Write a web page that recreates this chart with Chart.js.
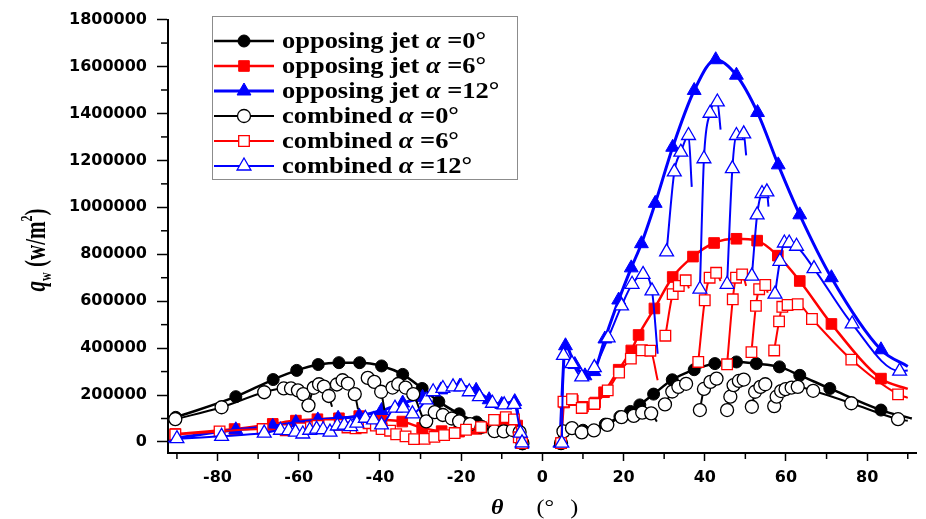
<!DOCTYPE html>
<html>
<head>
<meta charset="utf-8">
<script src="https://cdn.jsdelivr.net/npm/chart.js@4.4.1/dist/chart.umd.min.js"></script>
<style>
  html, body { margin: 0; padding: 0; background: #fff; }
  #wrap { width: 926px; height: 519px; position: relative; }
</style>
</head>
<body>
<div id="wrap"><canvas id="chart"></canvas></div>
<script>
// axis ranges and labelled ticks
const thetaRange = [-92.2, 92.2];
const qRange = [-47000, 1800000];
const xTickLabels = [-80, -60, -40, -20, 0, 20, 40, 60, 80];
const yTickLabels = [0, 200000, 400000, 600000, 800000, 1000000, 1200000, 1400000, 1600000, 1800000];
const xMinorStep = 10;
const yMinorStep = 100000;

const seriesNames = ['opposing jet', 'opposing jet', 'opposing jet', 'combined', 'combined', 'combined'];
const seriesAlpha = ['0', '6', '12', '0', '6', '12'];

// each series: list of segments of [theta, q]; the tails are unmarked end points of a segment
const opposing0 = [
  [[-90.3, 105000], [-75.5, 193000], [-66.3, 266000], [-60.5, 305000], [-55.2, 330000], [-50.1, 338000],
   [-45, 338000], [-39.6, 324000], [-34.4, 288000], [-29.6, 228000], [-25.5, 172000], [-20.5, 120000],
   [-16.2, 85000], [-11.5, 64000], [-7.5, 58000], [-4.9, -8000]],
  [[4.6, -6000], [5.2, 42000], [10, 50000], [15.5, 76000], [19.1, 108000], [21.7, 130000], [24, 158000],
   [27.4, 204000], [32, 265000], [37.4, 308000], [42.5, 334000], [47.8, 341000], [52.7, 334000],
   [58.4, 320000], [63.4, 284000], [70.8, 228000], [83.4, 136000]]
];
const opposing0Tails = [null, [91, 100000]];

const opposing6 = [
  [[-90.4, 34000], [-75.8, 55000], [-66.4, 77000], [-60.7, 91000], [-55.4, 97000], [-50.1, 101000],
   [-45.1, 110000], [-39.6, 95000], [-34.5, 87000], [-29.6, 60000], [-24.8, 46000], [-20.5, 44000],
   [-16.2, 56000], [-12, 72000], [-8, 82000], [-6.2, 70000], [-5, -5000]],
  [[4.6, -5000], [5.4, 168000], [7.5, 178000], [10, 150000], [13, 168000], [15.2, 212000], [18.8, 308000],
   [21.9, 390000], [23.7, 456000], [27.6, 569000], [32.1, 703000], [37.1, 790000], [42.3, 848000],
   [47.8, 866000], [52.9, 858000], [58, 794000], [63.4, 686000], [71.2, 503000], [83.4, 270000]]
];
const opposing6Tails = [null, [90, 226000]];

const opposing12 = [
  [[-90.4, 17000], [-75.5, 52000], [-66.4, 67000], [-60.7, 83000], [-55.3, 94000], [-50.3, 101000],
   [-45.1, 111000], [-39.6, 134000], [-34.4, 166000], [-29.5, 190000], [-25, 222000], [-20.3, 238000],
   [-16.3, 220000], [-13.1, 180000], [-10, 160000], [-6.8, 172000], [-5, -10000]],
  [[4.3, -5000], [5.7, 410000], [8, 330000], [10.5, 282000], [12.7, 300000], [15.4, 439000], [18.8, 605000],
   [21.9, 742000], [24.4, 845000], [27.8, 1017000], [32.1, 1256000], [37.4, 1498000], [42.7, 1629000],
   [47.8, 1563000], [53, 1404000], [58.1, 1181000], [63.4, 968000], [71.2, 700000], [83.4, 393000]]
];
const opposing12Tails = [null, [90, 322000]];

const combined0 = [
  [[-90.4, 97000], [-79, 148000], [-68.5, 212000], [-63.7, 228000], [-61.9, 228000], [-60.2, 220000], [-58.9, 204000]],
  [[-57.6, 156000], [-56.3, 231000], [-55, 246000], [-53.8, 236000], [-52.6, 196000]],
  [[-50.6, 245000], [-49.2, 263000], [-47.9, 249000], [-46.2, 204000]],
  [[-43, 273000], [-41.4, 256000], [-39.7, 214000]],
  [[-36.9, 232000], [-35.5, 247000], [-33.7, 232000], [-31.8, 204000], [-28.6, 88000], [-26.5, 127000],
   [-24.5, 115000], [-22.3, 100000], [-20.5, 88000], [-17.8, 76000], [-15, 64000], [-11.8, 46000],
   [-9.5, 45000], [-7.3, 51000], [-5.6, 42000], [-4.9, -5000]],
  [[4.6, -5000], [5.2, 45000], [7.3, 59000], [9.7, 41000], [12.7, 49000], [16, 73000], [19.5, 106000],
   [22.5, 111000], [24.6, 125000], [26.8, 122000]],
  [[30.2, 160000], [32, 215000], [33.5, 235000], [35.4, 248000]],
  [[38.8, 136000], [39.8, 226000], [41.4, 256000], [42.9, 270000]],
  [[45.5, 136000], [46.3, 193000], [47.1, 242000], [48.4, 260000], [49.6, 266000]],
  [[51.6, 150000], [52.4, 214000], [53.7, 235000], [54.9, 246000]],
  [[57.1, 153000], [57.7, 193000], [58.8, 217000], [59.9, 225000], [61.4, 232000], [62.9, 235000],
   [66.7, 218000], [76.1, 165000], [87.6, 97000]]
];
const combined0Tails = [null, [-51.8, 150000], [-45.4, 139000], [-38.9, 136000], null,
  [28.2, 87000], [36.4, 232000], [43.9, 249000], [50.3, 240000], [55.5, 232000], [90, 90000]];

const combined6 = [
  [[-90.4, 32000], [-79.5, 45000], [-68.9, 55000], [-63.2, 50000], [-59.5, 58000], [-57, 63000], [-55.4, 69000],
   [-52.5, 72000], [-49.7, 73000], [-48, 62000], [-46, 58000], [-44.5, 62000], [-42.8, 80000], [-41, 70000],
   [-39.6, 55000], [-37.5, 48000], [-36, 33000], [-33.7, 24000], [-31.6, 12000], [-29, 13000], [-26.6, 22000],
   [-24.2, 29000], [-21.6, 38000], [-18.8, 52000], [-15.1, 63000], [-11.9, 94000], [-9, 106000], [-7, 96000],
   [-5.8, 20000], [-5, -5000]],
  [[4.6, -5000], [5.2, 172000], [7.3, 182000], [9.7, 145000], [12.8, 162000], [16.1, 220000], [18.9, 296000],
   [21.8, 355000], [24.5, 391000], [26.6, 389000]],
  [[30.3, 453000], [32.1, 630000], [33.6, 665000], [35.3, 689000]],
  [[38.4, 341000], [40, 604000], [41.2, 700000], [42.8, 721000]],
  [[45.5, 331000], [46.9, 608000], [47.7, 700000], [49.2, 714000]],
  [[51.5, 383000], [52.6, 580000], [53.4, 651000], [54.9, 669000]],
  [[57.1, 390000], [58.3, 514000], [59.1, 576000], [60.4, 584000], [62.9, 587000], [66.4, 524000],
   [76.1, 351000], [87.6, 203000]]
];
const combined6Tails = [null, [28.4, 263000], [36.1, 655000], [43.9, 686000], [50.2, 665000], [55.5, 636000], [90, 188000]];

const combined12 = [
  [[-90, 14000], [-79, 24000], [-68.5, 38000], [-64.5, 50000], [-62.5, 48000], [-60.8, 42000], [-59, 34000],
   [-57.3, 50000], [-55.6, 55000], [-54, 52000], [-52.3, 42000], [-50.5, 68000], [-48.8, 72000], [-47.2, 65000],
   [-45.7, 80000], [-43.6, 101000], [-41.6, 94000], [-39.6, 73000], [-36.3, 144000], [-34.3, 144000],
   [-32, 120000], [-28.6, 179000], [-26.9, 214000], [-24.5, 228000], [-22, 235000], [-20, 235000],
   [-18, 214000], [-15.5, 193000], [-12.3, 165000], [-9.4, 158000], [-7, 160000], [-5.4, 38000], [-5, -4000]],
  [[4.8, -5000], [5.2, 369000], [7.3, 334000], [9.7, 277000], [12.8, 317000], [16.2, 444000], [19.5, 580000],
   [22.1, 672000], [24.8, 714000], [27, 644000]],
  [[30.6, 810000], [32.5, 1151000], [34.1, 1235000], [36, 1306000]],
  [[38.8, 651000], [39.8, 1207000], [41.3, 1401000], [43.1, 1449000]],
  [[45.5, 672000], [46.8, 1165000], [47.8, 1306000], [49.6, 1313000]],
  [[51.6, 707000], [52.9, 968000], [54.1, 1059000], [55.3, 1066000]],
  [[57.3, 630000], [58.5, 770000], [59.6, 848000], [60.8, 848000], [62.6, 834000], [66.9, 739000],
   [76.3, 503000], [88, 302000]]
];
const combined12Tails = [null, [28.4, 376000], [36.8, 1087000], [43.9, 1331000], [50.2, 1221000], [55.7, 1003000], [90, 305000]];

// styles
const styles = [
  { color: '#000000', fill: '#000000', point: 'circle', r: 6, width: 2.5, pw: 1 },
  { color: '#ff0000', fill: '#ff0000', point: 'rect', r: 7.5, width: 2.5, pw: 1 },
  { color: '#0000ff', fill: '#0000ff', point: 'triangle', r: 8, width: 3, pw: 1 },
  { color: '#000000', fill: '#ffffff', point: 'circle', r: 6.5, width: 2, pw: 1.3 },
  { color: '#ff0000', fill: '#ffffff', point: 'rect', r: 7.5, width: 2, pw: 1.3 },
  { color: '#0000ff', fill: '#ffffff', point: 'triangle', r: 8, width: 2, pw: 1.3 }
];

function buildSeries(segments, tails) {
  const points = [];
  const bare = [];
  segments.forEach((seg, i) => {
    if (i > 0) { points.push({ x: null, y: null }); bare.push(true); }
    seg.forEach(p => { points.push({ x: p[0], y: p[1] }); bare.push(false); });
    if (tails[i]) { points.push({ x: tails[i][0], y: tails[i][1] }); bare.push(true); }
  });
  return { points, bare };
}

const allSeries = [
  buildSeries(opposing0, opposing0Tails),
  buildSeries(opposing6, opposing6Tails),
  buildSeries(opposing12, opposing12Tails),
  buildSeries(combined0, combined0Tails),
  buildSeries(combined6, combined6Tails),
  buildSeries(combined12, combined12Tails)
];

const datasets = allSeries.map((s, i) => ({
  label: seriesNames[i] + ' a=' + seriesAlpha[i],
  data: s.points,
  borderColor: styles[i].color,
  borderWidth: styles[i].width,
  backgroundColor: styles[i].fill,
  pointBackgroundColor: styles[i].fill,
  pointBorderColor: styles[i].color,
  pointBorderWidth: styles[i].pw,
  pointStyle: styles[i].point,
  pointRadius: ctx => s.bare[ctx.dataIndex] ? 0 : styles[i].r,
  cubicInterpolationMode: 'monotone',
  spanGaps: false,
  order: 6 - i
}));

// tick positions every minor step inside the axis range (labels only on the major ones)
function stepTicks(range, step) {
  const out = [];
  for (let k = Math.ceil(range[0] / step); k * step <= range[1]; k++) out.push({ value: k * step });
  return out;
}
const isMajor = (list, v) => list.includes(v);

function drawMarker(ctx, st, x, y) {
  ctx.beginPath();
  if (st.point === 'circle') {
    ctx.arc(x, y, st.r, 0, Math.PI * 2);
  } else if (st.point === 'rect') {
    const h = st.r * Math.SQRT1_2;
    ctx.rect(x - h, y - h, 2 * h, 2 * h);
  } else {
    ctx.moveTo(x, y - st.r);
    ctx.lineTo(x + st.r * 0.866, y + st.r * 0.5);
    ctx.lineTo(x - st.r * 0.866, y + st.r * 0.5);
    ctx.closePath();
  }
  ctx.fillStyle = st.fill;
  ctx.strokeStyle = st.color;
  ctx.lineWidth = st.pw;
  ctx.fill();
  ctx.stroke();
}

function drawParts(ctx, parts, x, y) {
  let cx = x;
  parts.forEach(p => {
    ctx.font = p.font;
    ctx.fillText(p.text, cx, y + (p.dy || 0));
    cx += ctx.measureText(p.text).width;
  });
  return cx;
}

function partsWidth(ctx, parts) {
  let w = 0;
  parts.forEach(p => { ctx.font = p.font; w += ctx.measureText(p.text).width; });
  return w;
}

const decorations = {
  id: 'decorations',
  afterDraw(chart) {
    const ctx = chart.ctx;
    const xs = chart.scales.x, ys = chart.scales.y;
    const area = chart.chartArea;
    ctx.save();

    // minor ticks
    ctx.strokeStyle = '#000';
    ctx.lineWidth = 1.5;
    xs.ticks.forEach(t => {
      if (isMajor(xTickLabels, t.value)) return;
      const px = xs.getPixelForValue(t.value);
      ctx.beginPath(); ctx.moveTo(px, area.bottom); ctx.lineTo(px, area.bottom + 6); ctx.stroke();
    });
    ys.ticks.forEach(t => {
      if (isMajor(yTickLabels, t.value)) return;
      const py = ys.getPixelForValue(t.value);
      ctx.beginPath(); ctx.moveTo(area.left - 7, py); ctx.lineTo(area.left, py); ctx.stroke();
    });

    // legend
    const lx = 212, ly = 16, lw = 305, lh = 163;
    ctx.fillStyle = '#fff';
    ctx.fillRect(lx, ly, lw, lh);
    ctx.strokeStyle = '#8c8c8c';
    ctx.lineWidth = 1;
    ctx.strokeRect(lx + 0.5, ly + 0.5, lw, lh);
    const font = '"Liberation Serif", "Times New Roman", serif';
    styles.forEach((st, i) => {
      const y = 41 + i * 25;
      ctx.strokeStyle = st.color;
      ctx.lineWidth = st.width;
      ctx.beginPath(); ctx.moveTo(214, y); ctx.lineTo(274, y); ctx.stroke();
      drawMarker(ctx, st, 244, y);
      ctx.save();
      ctx.translate(282, y);
      ctx.scale(1.15, 1);
      ctx.fillStyle = '#000';
      ctx.textBaseline = 'middle';
      drawParts(ctx, [
        { text: seriesNames[i] + ' ', font: 'bold 23px ' + font },
        { text: '\u03b1', font: 'italic bold 23px ' + font },
        { text: ' =' + seriesAlpha[i] + '\u00b0', font: 'bold 23px ' + font }
      ], 0, 1);
      ctx.restore();
    });

    // y axis title: q_w (w/m^2)
    ctx.save();
    ctx.translate(45, 250);
    ctx.rotate(-Math.PI / 2);
    ctx.scale(1, 1.45);
    ctx.fillStyle = '#000';
    ctx.textBaseline = 'alphabetic';
    const yParts = [
      { text: 'q', font: 'italic bold 21px ' + font },
      { text: 'w', font: 'bold 12px ' + font, dy: 4 },
      { text: ' (w/m', font: 'bold 21px ' + font },
      { text: '2', font: 'bold 12px ' + font, dy: -9 },
      { text: ')', font: 'bold 21px ' + font }
    ];
    drawParts(ctx, yParts, -partsWidth(ctx, yParts) / 2, 0);
    ctx.restore();

    // x axis title: theta (deg)
    ctx.save();
    ctx.translate(491, 514);
    ctx.scale(1.2, 1);
    ctx.fillStyle = '#000';
    ctx.textBaseline = 'alphabetic';
    ctx.font = 'italic bold 20px ' + font;
    ctx.fillText('\u03b8', 0, 0);
    ctx.font = '20px ' + font;
    ctx.fillText('(\u00b0', 38, 0);
    ctx.fillText(')', 66, 0);
    ctx.restore();

    ctx.restore();
  }
};

const tickFont = { family: '"DejaVu Sans", sans-serif', size: 16, weight: 'bold' };

new Chart(document.getElementById('chart'), {
  type: 'line',
  data: { datasets },
  options: {
    responsive: true,
    maintainAspectRatio: false,
    animation: false,
    devicePixelRatio: 1,
    layout: { padding: { left: 0, right: 3, top: 16, bottom: 0 } },
    plugins: { legend: { display: false }, tooltip: { enabled: false } },
    scales: {
      x: {
        type: 'linear',
        min: thetaRange[0],
        max: thetaRange[1],
        afterBuildTicks: s => { s.ticks = stepTicks(thetaRange, xMinorStep); },
        afterFit: s => { s.height = 66; },
        border: { color: '#000', width: 2 },
        grid: {
          drawOnChartArea: false,
          tickLength: 8,
          tickWidth: 1.5,
          tickColor: c => isMajor(xTickLabels, c.tick.value) ? '#000' : 'rgba(0,0,0,0)'
        },
        ticks: {
          autoSkip: false,
          maxRotation: 0,
          padding: 7,
          color: '#000',
          font: tickFont,
          callback: v => isMajor(xTickLabels, v) ? String(v) : ''
        }
      },
      y: {
        min: qRange[0],
        max: qRange[1],
        afterBuildTicks: s => { s.ticks = stepTicks(qRange, yMinorStep); },
        afterFit: s => { s.width = 168; },
        border: { color: '#000', width: 2 },
        grid: {
          drawOnChartArea: false,
          tickLength: 11,
          tickWidth: 1.5,
          tickColor: c => isMajor(yTickLabels, c.tick.value) ? '#000' : 'rgba(0,0,0,0)'
        },
        ticks: {
          autoSkip: false,
          padding: 10,
          color: '#000',
          font: tickFont,
          callback: v => isMajor(yTickLabels, v) ? String(v) : ''
        }
      }
    }
  },
  plugins: [decorations]
});
</script>
</body>
</html>
